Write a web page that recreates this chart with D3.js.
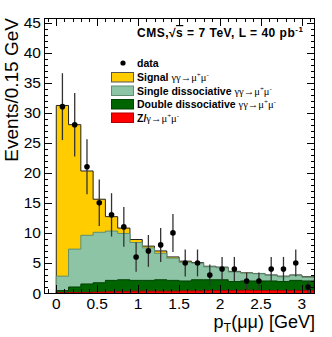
<!DOCTYPE html>
<html><head><meta charset="utf-8">
<script src="https://cdn.jsdelivr.net/npm/d3@7/dist/d3.min.js"></script>
<style>body{margin:0;background:#fff}svg{display:block}</style>
</head><body>
<svg id="c" width="332" height="337"></svg>
<script>
// ---- data ----
const binLowEdges = [0,0.15,0.3,0.45,0.6,0.75,0.9,1.05,1.2,1.35,1.5,1.65,1.8,1.95,2.1,2.25,2.4,2.55,2.7,2.85,3.0];
const binWidth = 0.15;
const dataCounts = [31,28,21,15,13,11,6,7,8,10,5,5,3,4,4,2,2,4,4,5,1];
const zgamma     = [0.05,0.1,0.1,0.15,0.2,0.25,0.3,0.3,0.3,0.3,0.35,0.35,0.4,0.4,0.4,0.45,0.4,0.4,0.4,0.4,0.4];
const doubleDiss = [0.35,0.9,1.4,1.55,1.9,1.95,1.8,1.8,1.9,1.8,1.65,1.85,1.8,1.8,1.5,1.55,1.6,1.6,1.5,1.7,1.6];
const singleDiss = [2.4,6.3,8.1,8.4,8.2,7.7,6.3,5.4,4.4,3.7,3.1,2.75,2.15,2.0,1.6,1.3,1.2,0.9,0.8,0.8,0.6];
const signal     = [28.4,20.7,10.7,5.5,2.4,0.9,0.5,0.3,0.4,0.2,0.2,0.1,0.1,0.1,0.1,0.05,0.05,0.1,0.1,0.1,0.1];
const yTicks = [0,5,10,15,20,25,30,35,40,45];
const xTicks = [0,0.5,1,1.5,2,2.5,3];

const svg = d3.select("#c");
const L=44,R=315,T=18,B=293;
const x = d3.scaleLinear().domain([-0.15,3.16]).range([L,R]);
const y = d3.scaleLinear().domain([0,45.75]).range([B,T]);

const rows = binLowEdges.map((e,i)=>({edge:e, zg:zgamma[i], dd:doubleDiss[i], sd:singleDiss[i], sig:signal[i]}));
const keys = ["zg","dd","sd","sig"];
const fills = {zg:"#ff0000", dd:"#006400", sd:"#8cc4a5", sig:"#ffcc00"};
const strokes = {zg:"#b00000", dd:"#004000", sd:"#5e8f72", sig:"#222"};
const stacked = d3.stack().keys(keys)(rows);

svg.append("clipPath").attr("id","cp").append("rect").attr("x",L).attr("y",T).attr("width",R-L).attr("height",B-T);
const g = svg.append("g").attr("clip-path","url(#cp)");

stacked.slice().reverse().forEach(layer=>{
  const pts = layer.map((d,i)=>({x:binLowEdges[i], y0:d[0], y1:d[1]}));
  const last = layer[layer.length-1];
  pts.push({x:binLowEdges[binLowEdges.length-1]+binWidth, y0:last[0], y1:last[1]});
  const area = d3.area().curve(d3.curveStepAfter).x(d=>x(d.x)).y0(y(0)).y1(d=>y(d.y1));
  g.append("path").attr("d",area(pts)).attr("fill",fills[layer.key]);
  const line = d3.line().curve(d3.curveStepAfter).x(d=>x(d.x)).y(d=>y(d.y1));
  const outline = [{x:pts[0].x,y1:0},...pts,{x:pts[pts.length-1].x,y1:0}];
  g.append("path").attr("d",line(outline)).attr("fill","none").attr("stroke",strokes[layer.key]).attr("stroke-width",1);
});

// axes ticks (ROOT style, inside, mirrored)
const ax = svg.append("g").attr("stroke","#000").attr("stroke-width",1);
d3.range(0,46,1).forEach(v=>{
  const major = yTicks.includes(v);
  const len = major?8:4;
  const yy = Math.round(y(v))+0.5;
  ax.append("line").attr("x1",L).attr("x2",L+len).attr("y1",yy).attr("y2",yy);
  ax.append("line").attr("x1",R).attr("x2",R-len).attr("y1",yy).attr("y2",yy);
});
d3.range(-0.1,3.16,0.1).map(v=>Math.round(v*10)/10).forEach(v=>{
  const major = xTicks.some(t=>Math.abs(t-v)<1e-6);
  const len = major?8:4;
  const xx = Math.round(x(v))+0.5;
  ax.append("line").attr("x1",xx).attr("x2",xx).attr("y1",B).attr("y2",B-len);
  ax.append("line").attr("x1",xx).attr("x2",xx).attr("y1",T).attr("y2",T+len);
});
svg.append("rect").attr("x",L+0.5).attr("y",T+0.5).attr("width",R-L-1).attr("height",B-T).attr("fill","none").attr("stroke","#000");

// data points
const dg = svg.append("g");
dataCounts.forEach((n,i)=>{
  const cx = x(binLowEdges[i]+binWidth/2);
  const e = Math.sqrt(n);
  dg.append("line").attr("x1",cx).attr("x2",cx).attr("y1",y(n-e)).attr("y2",y(n+e)).attr("stroke","#333").attr("stroke-width",1.3);
  dg.append("circle").attr("cx",cx).attr("cy",y(n)).attr("r",2.8).attr("fill","#000");
});

// tick labels
const font = "'Liberation Sans', Arial, Helvetica, sans-serif";
svg.append("g").selectAll("text").data(yTicks).join("text")
  .attr("x",L-3).attr("y",d=>y(d)+5.5).attr("text-anchor","end")
  .attr("font-family",font).attr("font-size",15.5).attr("fill","#000").text(d=>d);
svg.append("g").selectAll("text").data(xTicks).join("text")
  .attr("x",d=>x(d)).attr("y",B+15.5).attr("text-anchor","middle")
  .attr("font-family",font).attr("font-size",15.5).attr("fill","#000").text(d=>d);

// axis titles
svg.append("text").attr("transform",`translate(18,${T}) rotate(-90)`).attr("text-anchor","end")
  .attr("font-family",font).attr("font-size",19).text("Events/0.15 GeV");
const xt = svg.append("text").attr("x",R).attr("y",328).attr("text-anchor","end").attr("font-family",font).attr("font-size",18);
xt.append("tspan").text("p");
xt.append("tspan").attr("font-size",12.5).attr("dy",4).text("T");
xt.append("tspan").attr("dy",-4).text("(μμ) [GeV]");

// CMS label
const cms = svg.append("text").attr("x",137).attr("y",37).attr("font-family",font).attr("font-weight","bold").attr("font-size",12).attr("letter-spacing",0.5);
cms.append("tspan").text("CMS,√");
cms.append("tspan").attr("text-decoration","overline").text("s");
cms.append("tspan").text(" = 7 TeV, L = 40 pb");
cms.append("tspan").attr("font-size",8).attr("dy",-5).text("-1");

// legend
const serif = "'Liberation Serif', 'Times New Roman', serif";
const leg = svg.append("g");
leg.append("circle").attr("cx",123).attr("cy",63).attr("r",2.6).attr("fill","#000");
leg.append("text").attr("x",137).attr("y",67).attr("font-family",font).attr("font-weight","bold").attr("font-size",10.5).text("data");
const legItems = [
  {key:"sig", bold:"Signal ", rest:"γγ→μ", y:77},
  {key:"sd", bold:"Single dissociative ", rest:"γγ→μ", y:90.5},
  {key:"dd", bold:"Double dissociative ", rest:"γγ→μ", y:104},
  {key:"zg", bold:"Z/", rest:"γ→μ", y:117.5}
];
legItems.forEach(it=>{
  leg.append("rect").attr("x",111.5).attr("y",it.y-4.5).attr("width",22).attr("height",9.5)
    .attr("fill",fills[it.key]).attr("stroke",it.key==="sig"?"#555":strokes[it.key]).attr("stroke-width",1);
  const t = leg.append("text").attr("x",137).attr("y",it.y+4).attr("font-family",font).attr("font-weight","bold").attr("font-size",10.5);
  t.append("tspan").text(it.bold);
  t.append("tspan").attr("font-family",serif).attr("font-weight","normal").attr("font-size",10.5).text(it.rest);
  t.append("tspan").attr("font-family",serif).attr("font-weight","normal").attr("font-size",7).attr("dy",-4).text("+");
  t.append("tspan").attr("font-family",serif).attr("font-weight","normal").attr("font-size",10.5).attr("dy",4).text("μ");
  t.append("tspan").attr("font-family",serif).attr("font-weight","normal").attr("font-size",7).attr("dy",-4).text("-");
});
</script>
</body></html>
